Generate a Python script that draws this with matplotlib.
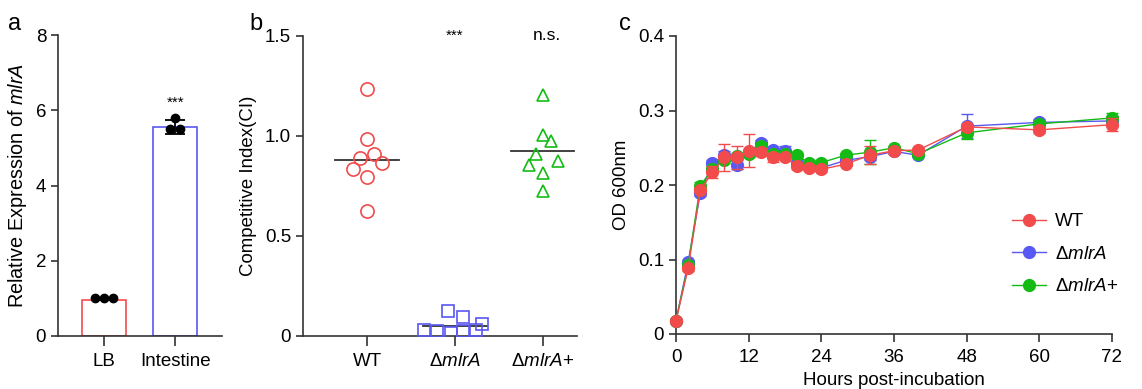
import matplotlib
matplotlib.use("Agg")
import matplotlib.pyplot as plt
import numpy as np

plt.rcParams['font.family'] = ['Liberation Sans', 'DejaVu Sans']
plt.rcParams['mathtext.fontset'] = 'custom'
plt.rcParams['mathtext.rm'] = 'Liberation Sans'
plt.rcParams['mathtext.it'] = 'Liberation Sans:italic'

RED = '#F24B4B'
BLUE = '#5858F2'
GREEN = '#14BB14'
AXC = '#333333'
TICK_FS = 13.5

# ---- Panel a data ----
a_categories = ['LB', 'Intestine']
a_means = [0.97, 5.55]
a_err = [0.0, 0.19]
a_points_lb = [1.0, 1.0, 1.0]
a_points_int = [5.80, 5.50, 5.50]

# ---- Panel b data ----
b_categories = ['WT', r'$\Delta$$\it{mlrA}$', r'$\Delta$$\it{mlrA}$+']
b_wt = [1.236, 0.987, 0.888, 0.908, 0.836, 0.865, 0.796, 0.625]
b_mut = [0.125, 0.097, 0.058, 0.028, 0.025, 0.015, 0.025, 0.028]
b_comp = [1.204, 1.005, 0.975, 0.911, 0.876, 0.856, 0.814, 0.724]
b_medians = [0.878, 0.050, 0.923]

# ---- Panel c data ----
hours = [0, 2, 4, 6, 8, 10, 12, 14, 16, 18, 20, 22, 24, 28, 32, 36, 40, 48, 60, 72]
od_wt = [0.018, 0.088, 0.193, 0.217, 0.237, 0.237, 0.246, 0.244, 0.237, 0.238,
         0.225, 0.223, 0.221, 0.228, 0.240, 0.246, 0.247, 0.278, 0.274, 0.281]
od_wt_err = [0.002, 0.003, 0.004, 0.008, 0.018, 0.016, 0.022, 0.005, 0.006, 0.004,
             0.003, 0.003, 0.003, 0.003, 0.012, 0.003, 0.003, 0.004, 0.004, 0.009]
od_mut = [0.018, 0.096, 0.189, 0.229, 0.240, 0.227, 0.243, 0.257, 0.247, 0.245,
          0.229, 0.228, 0.223, 0.233, 0.238, 0.245, 0.240, 0.279, 0.284, 0.286]
od_mut_err = [0.002, 0.003, 0.004, 0.004, 0.005, 0.006, 0.004, 0.004, 0.004, 0.008,
              0.003, 0.003, 0.003, 0.003, 0.005, 0.003, 0.003, 0.016, 0.004, 0.007]
od_comp = [0.018, 0.092, 0.199, 0.221, 0.234, 0.239, 0.242, 0.252, 0.242, 0.242,
           0.240, 0.229, 0.230, 0.240, 0.244, 0.250, 0.242, 0.270, 0.282, 0.290]
od_comp_err = [0.002, 0.003, 0.005, 0.004, 0.004, 0.004, 0.004, 0.004, 0.004, 0.004,
               0.003, 0.003, 0.003, 0.003, 0.016, 0.003, 0.003, 0.008, 0.004, 0.006]

fig = plt.figure(figsize=(11.42, 3.89), dpi=100)
H = 389.0
W = 1142.0

def ax_at(l, r, top, bottom):
    return fig.add_axes([l / W, 1 - bottom / H, (r - l) / W, (bottom - top) / H])

def style(ax):
    for s in ['top', 'right']:
        ax.spines[s].set_visible(False)
    for s in ['left', 'bottom']:
        ax.spines[s].set_color(AXC)
        ax.spines[s].set_linewidth(1.2)
    ax.tick_params(colors=AXC, labelcolor='black', labelsize=TICK_FS, width=1.2, length=5)

# ---------- Panel a ----------
axa = ax_at(58, 222, 35, 336)
style(axa)
xa = np.arange(len(a_categories))
axa.bar(xa, a_means, width=0.62, facecolor='none', edgecolor=[RED, BLUE], linewidth=1.2, zorder=2)
axa.errorbar([xa[1]], [a_means[1]], yerr=[a_err[1]], fmt='none', ecolor='black', capsize=7, elinewidth=1.3, capthick=1.3, zorder=3)
axa.plot(xa[0] + np.array([-0.127, 0, 0.127]), a_points_lb, 'o', color='black', ms=6, zorder=4)
axa.plot(xa[1] + np.array([0, -0.07, 0.07]), a_points_int, 'o', color='black', ms=6, zorder=4)
axa.set_xlim(-0.65, 1.66)
axa.set_ylim(0, 8)
axa.set_yticks([0, 2, 4, 6, 8])
axa.set_xticks(xa)
axa.set_xticklabels(a_categories)
axa.tick_params(axis='x', length=7, pad=5)
axa.set_ylabel(r'Relative Expression of $\it{mlrA}$', fontsize=14.3, labelpad=5)
axa.text(xa[1], 6.2, '***', ha='center', va='center', fontsize=11)
fig.text(15 / W, 1 - 24 / H, 'a', fontsize=17, ha='center', va='center')

# ---------- Panel b ----------
axb = ax_at(303, 577, 36, 336)
style(axb)
off8 = np.array([0, 0, -0.08, 0.08, -0.16, 0.17, 0, 0])
mut_off = np.array([-0.08, 0.09, 0.31, -0.35, -0.20, -0.05, 0.09, 0.24])
axb.plot(0 + off8, b_wt, 'o', mfc='none', mec=RED, ms=9.5, mew=1.2, zorder=3)
axb.plot(1 + mut_off, b_mut, 's', mfc='none', mec=BLUE, ms=8.5, mew=1.2, zorder=3)
comp_off = np.array([0, 0, 0.09, -0.08, 0.17, -0.16, 0, 0])
axb.plot(2 + comp_off, b_comp, '^', mfc='none', mec=GREEN, ms=9, mew=1.2, zorder=3)
for i, m in enumerate(b_medians):
    axb.plot([i - 0.36, i + 0.36], [m, m], color=AXC, lw=1.3, zorder=2)
axb.set_xlim(-0.73, 2.39)
axb.set_ylim(0, 1.5)
axb.set_yticks([0, 0.5, 1.0, 1.5])
axb.set_yticklabels(['0', '0.5', '1.0', '1.5'])
axb.set_xticks([0, 1, 2])
axb.set_xticklabels(b_categories)
axb.tick_params(axis='x', length=7, pad=5)
axb.set_ylabel('Competitive Index(CI)', fontsize=13.4, labelpad=6)
axb.text(1, 1.5, '***', ha='center', va='center', fontsize=11)
axb.text(2.05, 1.5, 'n.s.', ha='center', va='center', fontsize=12.5)
fig.text(256 / W, 1 - 24 / H, 'b', fontsize=17, ha='center', va='center')

# ---------- Panel c ----------
axc = ax_at(676, 1112, 36, 334)
style(axc)
series = [(od_wt, od_wt_err, RED, 'WT', 5),
          (od_mut, od_mut_err, BLUE, r'$\Delta$$\it{mlrA}$', 3),
          (od_comp, od_comp_err, GREEN, r'$\Delta$$\it{mlrA}$+', 4)]
for vals, err, col, lab, z in [series[2], series[1], series[0]]:
    axc.errorbar(hours, vals, yerr=err, fmt='none', ecolor=col, elinewidth=1.0, capsize=4, capthick=1.0, zorder=z)
    axc.plot(hours, vals, '-o', color=col, lw=1.0, ms=8.5, zorder=z, label=lab)
handles = {}
for l in axc.get_lines():
    handles[l.get_label()] = l
    l.set_clip_on(False)
axc.set_xlim(0, 72)
axc.set_ylim(0, 0.4)
axc.set_xticks([0, 12, 24, 36, 48, 60, 72])
axc.set_yticks([0, 0.1, 0.2, 0.3, 0.4])
axc.set_yticklabels(['0', '0.1', '0.2', '0.3', '0.4'])
axc.tick_params(axis='x', length=6, pad=5)
axc.set_ylabel('OD 600nm', fontsize=13.4, labelpad=6)
axc.set_xlabel('Hours post-incubation', fontsize=13.5, labelpad=4)
labels = ['WT', r'$\Delta$$\it{mlrA}$', r'$\Delta$$\it{mlrA}$+']
leg = axc.legend([handles[k] for k in labels], labels,
                 loc='upper left', bbox_to_anchor=((1012 - 676) / 436, (334 - 213) / 298),
                 frameon=False, fontsize=13.5, handlelength=1.8, labelspacing=0.82,
                 handletextpad=0.5, borderaxespad=0, borderpad=0)
fig.text(625 / W, 1 - 24 / H, 'c', fontsize=17, ha='center', va='center')

fig.savefig('out.png', dpi=100)
